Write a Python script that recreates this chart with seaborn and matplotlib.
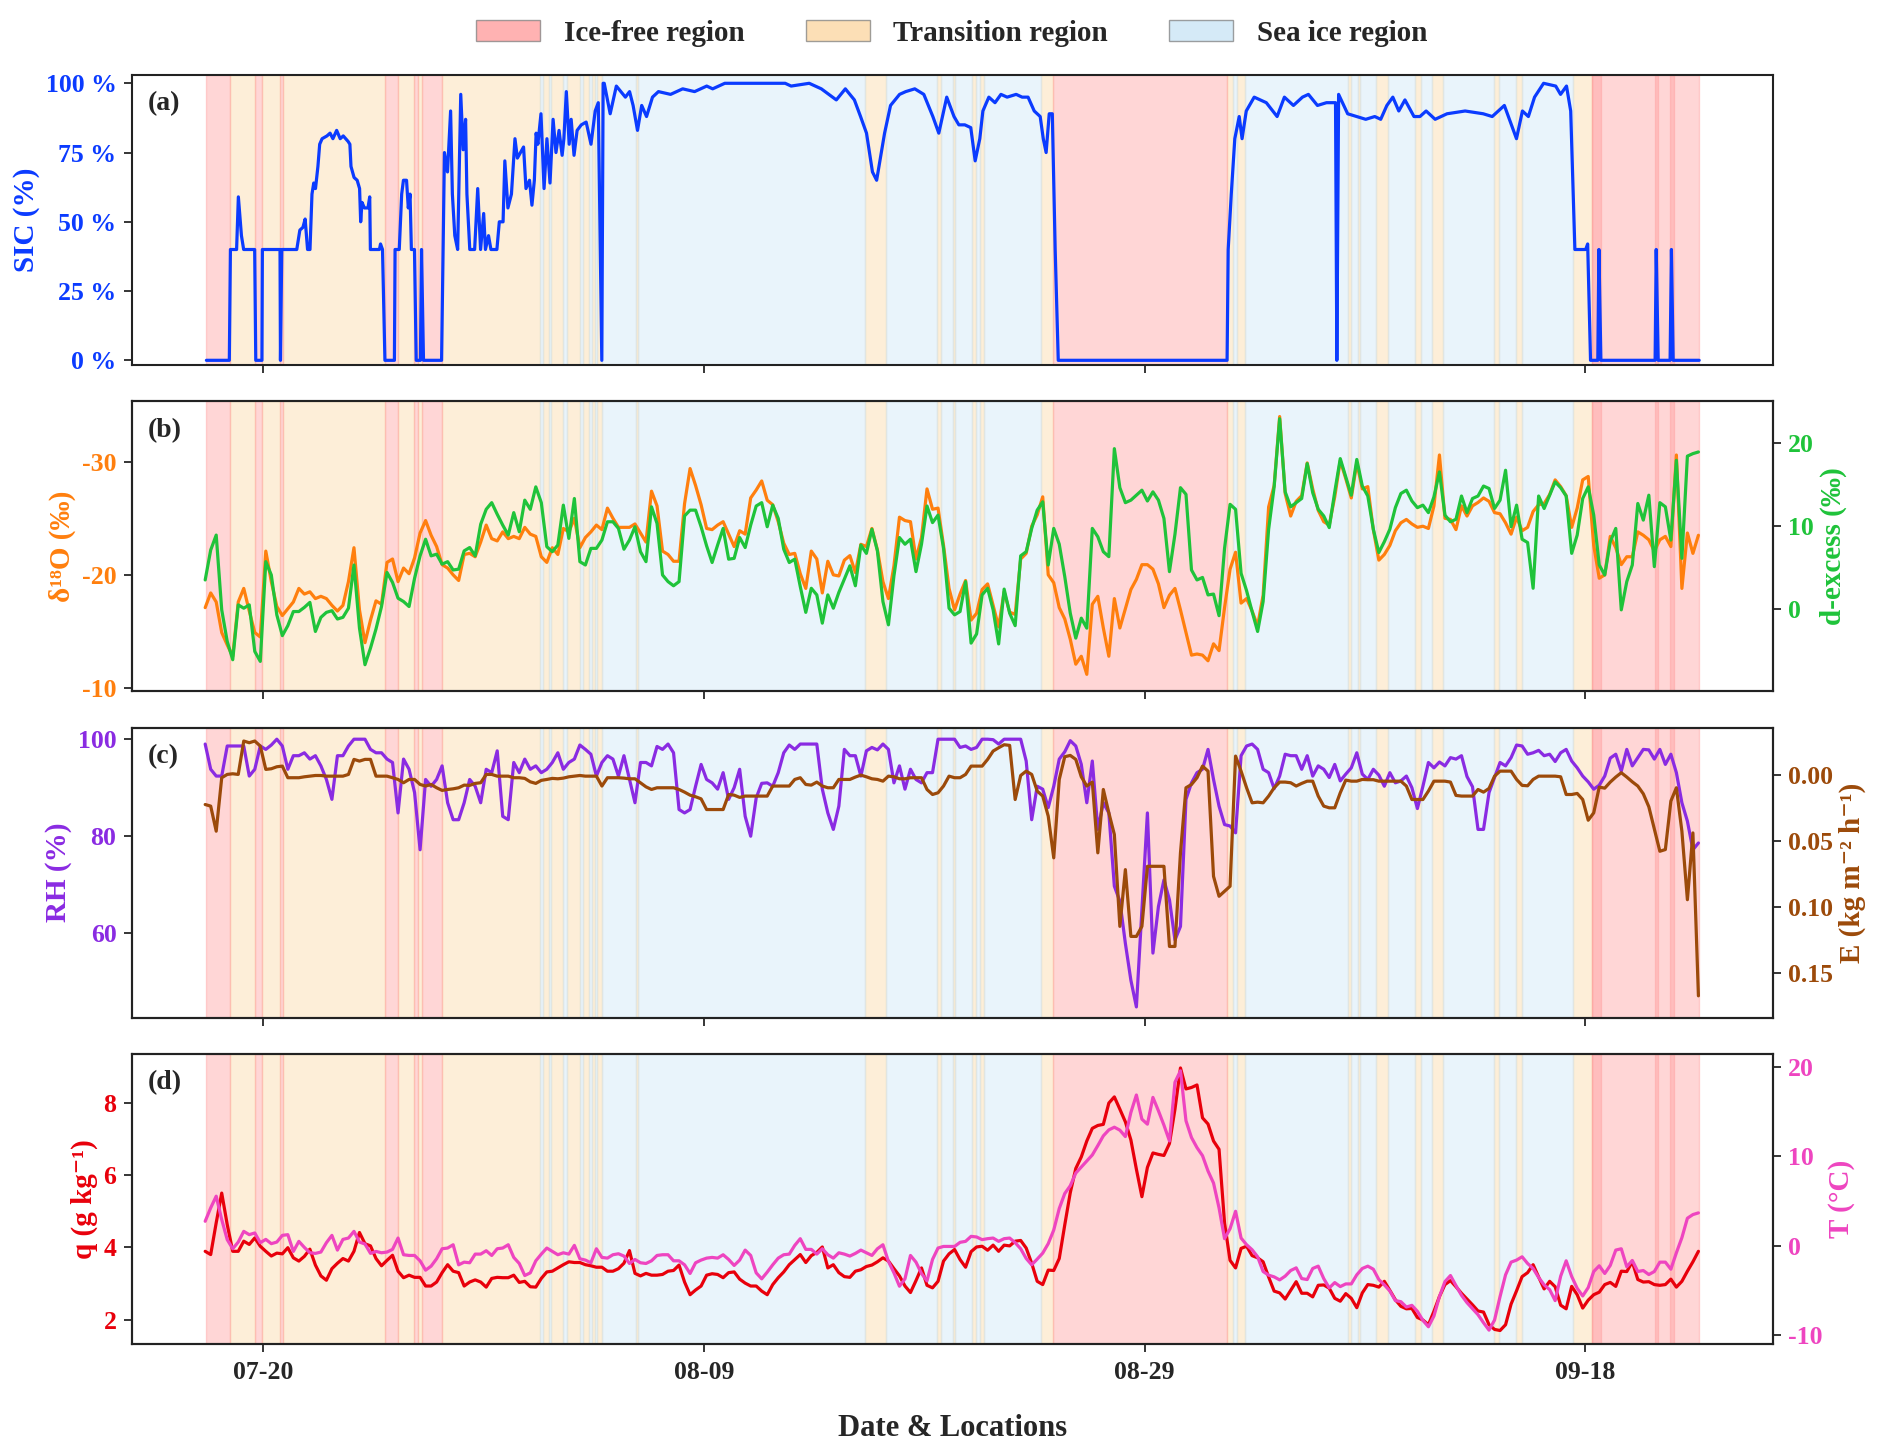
import numpy as np
import pandas as pd
import matplotlib
matplotlib.use('Agg')
import matplotlib.pyplot as plt
import matplotlib.dates as mdates
from matplotlib.patches import Patch
import seaborn as sns

sns.set_style('ticks')
plt.rcParams['font.family'] = ['Liberation Serif', 'DejaVu Serif']
plt.rcParams['font.weight'] = 'bold'
plt.rcParams['axes.labelweight'] = 'bold'
plt.rcParams['axes.unicode_minus'] = False

# ---- data (6-hourly series starting 07-17 09:00) ----
day0 = pd.Timestamp('2023-07-17')
times = pd.date_range('2023-07-17 09:00', periods=272, freq='6h')

d18o = [-17.1, -18.4, -17.6, -14.9, -13.8, -12.8, -17.6, -18.8, -16.8, -14.9,
        -14.5, -22.1, -19.4, -17.2, -16.4, -17.0, -17.6, -18.8, -18.3, -18.5,
        -17.9, -18.1, -17.9, -17.3, -16.8, -17.3, -19.4, -22.4, -16.9, -14.0,
        -16.0, -17.7, -17.4, -21.1, -21.4, -19.4, -20.6, -20.1, -21.5, -23.7,
        -24.8, -23.5, -22.5, -20.9, -20.6, -20.0, -19.5, -21.8, -21.9, -21.6,
        -22.9, -24.4, -23.2, -23.0, -23.8, -23.2, -23.4, -23.2, -24.2, -23.6,
        -23.4, -21.6, -21.1, -22.4, -21.8, -24.1, -23.8, -25.0, -22.4, -23.3,
        -23.8, -24.4, -24.0, -25.9, -25.0, -24.2, -24.2, -24.2, -24.5, -23.7,
        -22.9, -27.4, -26.1, -22.1, -21.8, -21.2, -21.2, -26.3, -29.4, -27.9,
        -26.2, -24.1, -24.0, -24.4, -24.7, -23.6, -22.5, -23.9, -23.6, -26.8,
        -27.5, -28.3, -26.6, -26.2, -24.7, -22.8, -21.8, -21.9, -20.1, -18.8,
        -22.1, -21.4, -18.4, -21.2, -20.0, -19.9, -21.3, -21.7, -20.2, -22.7,
        -22.5, -24.1, -22.2, -19.4, -17.9, -20.8, -25.1, -24.8, -24.7, -21.4,
        -23.3, -27.6, -25.8, -25.9, -22.6, -18.8, -16.9, -18.3, -19.5, -16.0,
        -16.6, -18.7, -19.2, -17.3, -15.4, -18.5, -16.7, -16.5, -21.4, -21.9,
        -24.3, -25.3, -26.9, -20.0, -19.3, -17.1, -16.1, -14.3, -12.1, -12.8,
        -11.2, -17.4, -18.1, -15.3, -12.8, -17.9, -15.3, -17.0, -18.7, -19.6,
        -20.9, -20.9, -20.5, -19.2, -17.1, -18.2, -18.8, -16.9, -14.9, -12.9,
        -13.0, -12.9, -12.4, -13.9, -13.3, -17.1, -20.5, -22.0, -17.5, -17.9,
        -16.8, -15.5, -18.2, -26.0, -27.9, -34.0, -27.2, -25.2, -26.5, -27.0,
        -29.9, -27.6, -25.7, -24.7, -24.4, -26.9, -30.1, -28.5, -26.8, -29.9,
        -27.6, -27.8, -24.0, -21.3, -21.8, -22.6, -23.9, -24.6, -24.9, -24.5,
        -24.2, -24.3, -24.1, -26.1, -30.6, -25.0, -24.9, -24.0, -26.1, -25.2,
        -26.1, -26.4, -26.8, -26.5, -25.5, -25.4, -24.6, -23.6, -25.1, -23.9,
        -24.2, -25.6, -26.2, -26.3, -27.1, -28.4, -27.8, -27.0, -24.2, -25.9,
        -28.4, -28.7, -22.6, -19.7, -20.0, -23.4, -22.4, -20.9, -21.6, -21.6,
        -23.8, -23.5, -23.1, -22.1, -23.1, -23.4, -22.5, -30.6, -18.8, -23.7,
        -21.9, -23.5]

d_excess = [3.5, 7.1, 8.9, -0.1, -3.9, -6.1, 0.5, 0.1, 0.5, -5.1,
            -6.3, 5.7, 4.1, -0.7, -3.2, -2.0, -0.3, -0.3, 0.2, 0.8,
            -2.7, -1.0, -0.4, -0.2, -1.2, -1.0, 0.1, 5.3, -2.3, -6.7,
            -4.7, -2.4, 0.3, 4.4, 3.2, 1.3, 0.9, 0.3, 3.7, 6.4,
            8.4, 6.4, 6.6, 5.4, 5.7, 4.7, 4.8, 7.0, 7.4, 6.4,
            10.2, 12.0, 12.8, 11.4, 10.1, 8.9, 11.6, 9.3, 13.1, 12.0,
            14.7, 12.8, 7.5, 6.9, 7.7, 12.5, 8.5, 13.3, 5.7, 5.3,
            7.3, 7.3, 8.3, 10.5, 10.5, 9.7, 7.2, 8.3, 9.9, 6.9,
            5.7, 12.3, 10.3, 4.1, 3.3, 2.8, 3.3, 11.2, 11.9, 11.9,
            9.9, 7.6, 5.6, 7.7, 9.7, 6.0, 6.1, 8.6, 7.4, 10.1,
            12.4, 12.8, 9.9, 12.5, 10.9, 7.2, 5.6, 6.0, 2.7, -0.4,
            2.5, 1.7, -1.7, 1.7, 0.1, 2.0, 3.6, 5.2, 2.8, 7.7,
            6.7, 9.6, 7.0, 0.9, -1.9, 4.0, 8.6, 7.8, 8.4, 4.5,
            7.8, 12.4, 10.4, 11.3, 7.3, 0.1, -0.7, -0.3, 3.3, -4.1,
            -3.0, 1.7, 2.5, -0.1, -4.2, 2.4, -0.5, -2.0, 6.4, 6.9,
            9.7, 11.9, 12.9, 5.3, 9.7, 7.8, 3.9, -0.5, -3.5, -1.1,
            -2.3, 9.7, 8.7, 6.9, 6.3, 19.3, 14.6, 12.8, 13.1, 13.7,
            14.3, 13.0, 14.1, 13.1, 10.9, 4.5, 9.0, 14.6, 13.8, 4.7,
            3.5, 3.8, 1.7, 1.8, -0.8, 7.3, 12.6, 12.0, 4.3, 2.2,
            -0.3, -2.7, 0.9, 9.6, 14.7, 22.9, 14.1, 12.3, 12.8, 13.3,
            17.5, 14.0, 12.0, 11.2, 9.8, 14.1, 18.1, 15.9, 13.7, 18.0,
            14.8, 13.6, 9.6, 6.8, 8.1, 9.6, 12.2, 13.9, 14.3, 13.0,
            12.2, 12.5, 11.6, 13.5, 16.5, 11.3, 10.5, 10.8, 13.6, 11.6,
            13.3, 13.6, 14.8, 14.5, 12.1, 13.1, 16.7, 9.9, 12.5, 8.4,
            8.0, 2.5, 13.6, 12.1, 13.7, 15.3, 14.6, 13.6, 6.7, 8.9,
            13.3, 14.7, 11.3, 5.3, 4.1, 8.1, 9.7, -0.1, 3.3, 5.3,
            12.7, 10.7, 13.7, 5.1, 12.8, 12.3, 8.3, 17.9, 6.1, 18.4,
            18.7, 18.9]

rh = [99.0, 93.8, 92.4, 92.4, 98.6, 98.6, 98.6, 98.6, 92.4, 93.8,
      98.6, 97.9, 98.8, 100.0, 98.6, 93.8, 96.6, 96.6, 97.2, 95.9,
      96.6, 94.5, 91.7, 87.6, 96.6, 96.6, 98.6, 100.0, 100.0, 100.0,
      97.9, 97.2, 97.2, 95.9, 95.2, 84.8, 95.9, 93.8, 89.0, 77.2,
      91.7, 90.3, 91.7, 94.5, 86.9, 83.4, 83.4, 86.9, 91.7, 90.3,
      86.9, 93.8, 93.1, 97.6, 84.1, 83.4, 95.2, 93.1, 95.9, 93.8,
      94.5, 93.1, 93.8, 95.2, 97.2, 93.8, 95.2, 95.9, 98.8, 97.9,
      96.9, 92.4, 95.2, 96.6, 95.9, 92.4, 96.6, 91.7, 86.9, 95.2,
      95.2, 94.5, 98.5, 97.9, 99.0, 97.2, 85.5, 84.8, 85.5, 90.3,
      94.8, 91.7, 91.0, 89.7, 93.1, 87.6, 90.0, 93.8, 84.1, 80.0,
      87.9, 90.9, 91.0, 90.3, 93.1, 97.2, 98.8, 97.9, 99.0, 99.0,
      99.0, 99.0, 89.7, 84.8, 81.4, 86.2, 97.9, 96.6, 96.6, 92.4,
      97.6, 98.3, 97.8, 99.0, 97.9, 91.0, 94.5, 89.7, 93.8, 91.7,
      91.0, 93.1, 93.1, 100.0, 100.0, 100.0, 100.0, 98.3, 98.6, 97.9,
      98.3, 100.0, 100.0, 99.9, 99.0, 100.0, 100.0, 100.0, 100.0, 95.5,
      83.4, 90.3, 89.7, 85.9, 90.3, 95.9, 97.4, 99.7, 98.6, 94.8,
      86.9, 95.5, 81.4, 86.9, 84.8, 69.7, 66.6, 57.9, 50.3, 44.8,
      64.8, 84.8, 55.9, 65.5, 71.0, 66.9, 58.6, 61.4, 87.6, 91.0,
      93.1, 93.8, 97.9, 91.7, 86.2, 82.4, 82.1, 80.7, 96.6, 98.6,
      99.0, 97.9, 93.8, 93.1, 89.8, 92.4, 96.9, 96.6, 96.6, 93.8,
      96.6, 92.4, 94.5, 93.8, 92.1, 94.8, 91.4, 92.8, 94.1, 97.2,
      92.8, 91.7, 93.8, 92.6, 90.3, 93.1, 91.0, 91.4, 92.4, 90.0,
      85.7, 90.3, 95.2, 94.1, 95.3, 94.5, 96.2, 95.9, 96.6, 92.3,
      90.2, 81.4, 81.4, 89.0, 92.1, 95.2, 94.5, 96.2, 98.8, 98.6,
      96.9, 97.2, 97.7, 96.6, 96.9, 95.4, 97.2, 97.9, 95.5, 94.1,
      92.4, 91.2, 89.7, 90.5, 92.4, 96.1, 96.9, 93.4, 97.9, 94.5,
      96.2, 97.9, 97.8, 95.9, 97.9, 94.8, 96.9, 93.1, 86.9, 83.1,
      77.2, 78.6]

evap = [0.0223, 0.0235, 0.0425, 0.0020, -0.0005, -0.0010, -0.0005, -0.0258, -0.0245, -0.0258,
        -0.0220, -0.0043, -0.0048, -0.0063, -0.0068, 0.0020, 0.0020, 0.0020, 0.0013, 0.0008,
        0.0003, 0.0003, 0.0008, 0.0008, 0.0008, 0.0008, -0.0005, -0.0119, -0.0106, -0.0119,
        -0.0119, 0.0008, 0.0008, 0.0008, 0.0020, 0.0033, 0.0058, 0.0033, 0.0033, 0.0071,
        0.0083, 0.0071, 0.0096, 0.0116, 0.0109, 0.0104, 0.0096, 0.0076, 0.0078, 0.0063,
        0.0058, -0.0005, -0.0005, 0.0008, 0.0008, 0.0008, 0.0020, 0.0020, 0.0025, 0.0051,
        0.0063, 0.0040, 0.0033, 0.0025, 0.0028, 0.0023, 0.0013, 0.0008, 0.0003, 0.0008,
        0.0008, 0.0008, 0.0083, 0.0020, 0.0020, 0.0020, 0.0023, 0.0028, 0.0028, 0.0058,
        0.0089, 0.0109, 0.0096, 0.0096, 0.0096, 0.0096, 0.0109, 0.0129, 0.0152, 0.0164,
        0.0180, 0.0261, 0.0261, 0.0261, 0.0261, 0.0147, 0.0152, 0.0169, 0.0159, 0.0159,
        0.0159, 0.0159, 0.0159, 0.0083, 0.0083, 0.0083, 0.0083, 0.0033, 0.0020, 0.0071,
        0.0076, 0.0053, 0.0083, 0.0096, 0.0096, 0.0033, 0.0033, 0.0033, 0.0015, 0.0000,
        0.0013, 0.0028, 0.0033, 0.0046, 0.0008, 0.0013, 0.0028, 0.0028, 0.0020, 0.0020,
        0.0020, 0.0109, 0.0147, 0.0134, 0.0083, 0.0008, 0.0020, 0.0020, -0.0005, -0.0068,
        -0.0068, -0.0068, -0.0119, -0.0182, -0.0207, -0.0230, -0.0225, 0.0185, 0.0003, -0.0030,
        -0.0005, 0.0121, 0.0159, 0.0311, 0.0627, 0.0033, -0.0139, -0.0149, -0.0119, 0.0013,
        0.0083, 0.0053, 0.0589, 0.0109, 0.0286, 0.0450, 0.1146, 0.0716, 0.1222, 0.1222,
        0.1146, 0.0691, 0.0691, 0.0691, 0.0691, 0.1298, 0.1298, 0.0589, 0.0096, 0.0071,
        0.0020, -0.0068, -0.0030, 0.0767, 0.0918, 0.0880, 0.0842, -0.0144, -0.0030, 0.0096,
        0.0210, 0.0205, 0.0210, 0.0159, 0.0096, 0.0053, 0.0053, 0.0058, 0.0083, 0.0063,
        0.0046, 0.0046, 0.0159, 0.0235, 0.0248, 0.0248, 0.0134, 0.0038, 0.0046, 0.0046,
        0.0033, 0.0035, 0.0035, 0.0046, 0.0046, 0.0046, 0.0046, 0.0046, 0.0083, 0.0185,
        0.0185, 0.0185, 0.0121, 0.0046, 0.0046, 0.0046, 0.0053, 0.0154, 0.0159, 0.0159,
        0.0159, 0.0109, 0.0129, 0.0101, 0.0008, -0.0030, -0.0030, -0.0030, 0.0033, 0.0078,
        0.0081, 0.0033, 0.0008, 0.0008, 0.0008, 0.0008, 0.0013, 0.0147, 0.0147, 0.0139,
        0.0185, 0.0342, 0.0286, 0.0091, 0.0099, 0.0053, 0.0015, -0.0018, 0.0015, 0.0051,
        0.0083, 0.0142, 0.0240, 0.0407, 0.0577, 0.0564, 0.0197, 0.0096, 0.0425, 0.0944,
        0.0438, 0.1672]

q = [3.89, 3.80, 4.68, 5.50, 4.63, 3.89, 3.89, 4.17, 4.08, 4.26,
     4.03, 3.89, 3.76, 3.84, 3.82, 3.99, 3.71, 3.62, 3.75, 3.95,
     3.51, 3.21, 3.09, 3.41, 3.56, 3.69, 3.62, 3.89, 4.41, 4.10,
     4.04, 3.69, 3.49, 3.64, 3.78, 3.34, 3.16, 3.23, 3.17, 3.17,
     2.93, 2.93, 3.04, 3.30, 3.52, 3.34, 3.30, 2.93, 3.04, 3.10,
     3.04, 2.90, 3.14, 3.17, 3.16, 3.16, 3.23, 3.03, 3.06, 2.91,
     2.90, 3.14, 3.32, 3.34, 3.43, 3.52, 3.60, 3.58, 3.58, 3.52,
     3.49, 3.45, 3.45, 3.34, 3.34, 3.41, 3.56, 3.91, 3.28, 3.21,
     3.28, 3.23, 3.23, 3.25, 3.34, 3.36, 3.51, 3.04, 2.69, 2.82,
     2.93, 3.23, 3.27, 3.25, 3.16, 3.30, 3.32, 3.12, 3.01, 2.93,
     2.93, 2.79, 2.69, 2.97, 3.16, 3.32, 3.52, 3.66, 3.80, 3.58,
     3.77, 3.86, 4.01, 3.43, 3.52, 3.30, 3.19, 3.17, 3.34, 3.38,
     3.47, 3.51, 3.60, 3.71, 3.62, 3.41, 3.21, 2.93, 2.75, 3.08,
     3.43, 2.95, 2.88, 3.06, 3.62, 3.82, 3.94, 3.66, 3.45, 3.88,
     4.01, 4.03, 3.92, 4.06, 3.89, 4.06, 4.04, 4.17, 4.19, 3.98,
     3.56, 3.06, 2.97, 3.37, 3.36, 3.69, 4.62, 5.51, 6.18, 6.50,
     6.94, 7.29, 7.37, 7.40, 7.99, 8.16, 7.82, 7.47, 6.97, 6.16,
     5.40, 6.21, 6.61, 6.57, 6.54, 6.87, 7.82, 8.96, 8.38, 8.42,
     8.49, 7.58, 7.41, 6.94, 6.71, 4.67, 3.64, 3.43, 3.97, 4.03,
     3.77, 3.71, 3.60, 3.18, 2.79, 2.74, 2.57, 2.81, 3.05, 2.73,
     2.73, 2.63, 2.95, 2.96, 2.87, 2.59, 2.51, 2.72, 2.59, 2.33,
     2.74, 2.97, 2.95, 2.90, 3.06, 2.81, 2.55, 2.37, 2.30, 2.31,
     2.06, 1.99, 1.86, 2.23, 2.64, 2.97, 3.08, 2.91, 2.73, 2.57,
     2.41, 2.24, 2.21, 1.86, 1.73, 1.70, 1.86, 2.43, 2.80, 3.19,
     3.30, 3.52, 3.18, 2.85, 3.06, 2.91, 2.40, 2.30, 2.92, 2.69,
     2.32, 2.54, 2.69, 2.76, 2.97, 3.03, 2.92, 3.34, 3.33, 3.60,
     3.11, 3.04, 3.05, 2.97, 2.95, 2.97, 3.12, 2.90, 3.06, 3.34,
     3.60, 3.89]

temp = [2.74, 4.24, 5.55, 2.93, 0.68, -0.34, 0.41, 1.61, 1.24, 1.43,
        0.34, 0.71, 0.23, 0.41, 1.16, 1.24, -0.64, 0.49, -0.19, -0.79,
        -0.86, -0.71, 0.34, 1.16, -0.49, 0.71, 0.86, 1.61, 0.41, 0.19,
        -0.86, -0.64, -0.79, -0.71, -0.41, 0.86, -1.01, -1.09, -1.09, -1.69,
        -2.74, -2.29, -1.46, -0.34, -0.26, 0.11, -2.14, -1.84, -1.91, -0.94,
        -0.94, -0.56, -1.09, -0.34, -0.26, 0.11, -1.31, -1.99, -3.34, -3.04,
        -1.69, -0.94, -0.26, -0.64, -1.01, -0.79, -0.94, 0.04, -1.46, -1.61,
        -1.91, -0.34, -1.31, -1.39, -1.01, -0.90, -1.16, -1.99, -1.54, -1.91,
        -1.99, -1.69, -1.09, -1.01, -1.01, -1.69, -1.69, -2.14, -3.11, -1.91,
        -1.61, -1.39, -1.31, -1.39, -1.01, -1.54, -2.21, -1.61, -0.49, -1.09,
        -3.04, -3.71, -2.96, -2.14, -1.39, -1.01, -0.94, 0.04, 0.79, -0.41,
        -0.41, -0.94, -0.34, -1.01, -1.39, -0.79, -0.94, -1.16, -0.86, -0.49,
        -0.79, -1.09, -0.34, 0.11, -1.76, -3.04, -4.54, -3.71, -1.09, -1.84,
        -3.11, -3.94, -1.54, -0.26, -0.08, -0.08, -0.08, 0.38, 0.49, 1.05,
        0.98, 0.68, 0.79, 0.86, 0.49, 0.79, 0.86, 0.34, -0.34, -1.43,
        -2.14, -1.50, -0.83, 0.23, 1.76, 4.17, 5.85, 6.72, 8.14, 8.82,
        9.49, 10.17, 11.22, 12.31, 12.98, 13.28, 12.95, 12.23, 14.93, 16.89,
        14.18, 13.62, 16.62, 15.12, 13.51, 11.74, 18.31, 19.6, 14.00, 12.12,
        10.99, 10.09, 8.37, 7.02, 4.24, 0.79, 1.91, 3.86, 0.86, 0.11,
        -0.45, -1.24, -2.89, -3.30, -3.49, -3.83, -3.41, -2.78, -2.48, -3.68,
        -3.79, -2.55, -2.29, -3.68, -4.73, -4.13, -4.58, -4.28, -4.28, -3.26,
        -2.55, -2.29, -2.63, -3.79, -4.39, -5.07, -6.15, -6.27, -6.87, -6.68,
        -7.35, -8.37, -9.08, -7.88, -5.70, -4.02, -3.34, -4.47, -5.55, -6.38,
        -7.05, -7.73, -8.63, -9.46, -8.33, -5.70, -3.26, -1.84, -1.61, -1.24,
        -1.99, -2.55, -3.56, -4.39, -4.92, -6.15, -3.41, -1.69, -3.45, -4.77,
        -5.63, -4.69, -2.89, -2.25, -3.11, -2.21, -0.49, -0.34, -2.36, -1.65,
        -2.89, -2.78, -3.23, -2.89, -1.84, -1.84, -2.63, -0.79, 0.90, 3.08,
        3.49, 3.68]

# sea ice concentration, irregular times (days after 07-17 00:00)
sic_day = [0.43, 1.47, 1.52, 1.80, 1.88, 2.02, 2.12, 2.62, 2.67, 2.95, 2.97, 3.77, 3.79, 3.85,
           4.53, 4.67, 4.81, 4.91, 5.02, 5.13, 5.22, 5.30, 5.38, 5.49, 5.57, 5.68, 5.90, 6.04,
           6.17, 6.34, 6.50, 6.64, 6.86, 6.94, 6.99, 7.13, 7.27, 7.38, 7.43, 7.49, 7.60, 7.76,
           7.84, 7.87, 8.28, 8.33, 8.42, 8.53, 8.96, 8.99, 9.18, 9.29, 9.37, 9.51, 9.59, 9.67,
           9.73, 9.87, 9.95, 10.14, 10.19, 10.28, 11.10, 11.23, 11.37, 11.51, 11.59, 11.70, 11.83,
           11.97, 12.08, 12.19, 12.25, 12.38, 12.60, 12.74, 12.87, 13.01, 13.09, 13.23, 13.34,
           13.61, 13.72, 13.89, 13.97, 14.11, 14.27, 14.43, 14.54, 14.82, 14.93, 15.09, 15.20,
           15.31, 15.39, 15.47, 15.61, 15.75, 15.88, 16.02, 16.16, 16.29, 16.43, 16.57, 16.65,
           16.76, 16.89, 16.98, 17.11, 17.25, 17.44, 17.66, 17.88, 18.07, 18.21, 18.37, 18.43,
           18.48, 18.75, 19.03, 19.44, 19.63, 19.79, 19.99, 20.18, 20.40, 20.67, 20.94, 21.49,
           22.04, 22.58, 23.13, 23.40, 23.95, 26.69, 26.96, 27.78, 28.33, 29.01, 29.42, 29.83,
           30.11, 30.38, 30.65, 30.84, 31.01, 31.20, 31.47, 31.88, 32.16, 32.57, 32.98, 33.39,
           33.66, 34.02, 34.35, 34.57, 34.84, 35.11, 35.31, 35.52, 35.66, 35.93, 36.21, 36.48,
           36.76, 37.17, 37.44, 37.71, 37.99, 38.26, 38.40, 38.53, 38.67, 38.81, 38.94, 39.08,
           46.74, 46.79, 46.93, 47.09, 47.29, 47.42, 47.61, 47.97, 48.52, 49.01, 49.34, 49.75,
           50.16, 50.43, 50.84, 51.25, 51.66, 51.72, 51.80, 52.21, 52.62, 53.03, 53.44, 53.71,
           53.99, 54.26, 54.53, 54.81, 55.22, 55.49, 55.77, 56.18, 56.72, 57.54, 58.36, 58.77,
           59.32, 59.87, 60.14, 60.41, 60.69, 61.10, 61.65, 61.87, 62.14, 62.33, 62.52, 63.01,
           63.10, 63.23, 63.56, 63.61, 63.70, 66.16, 66.21, 66.30, 66.84, 66.90, 66.98, 68.16]
sic = [0, 0, 40, 40, 59, 45, 40, 40, 0, 0, 40, 40, 0, 40,
       40, 47, 48, 51, 40, 40, 60, 64, 62, 70, 78, 80, 81, 82,
       80, 83, 80, 81, 79, 78, 70, 66, 65, 62, 50, 57, 55, 55,
       59, 40, 40, 42, 40, 0, 0, 40, 40, 60, 65, 65, 55, 60,
       40, 40, 0, 0, 40, 0, 0, 75, 68, 90, 60, 45, 40,
       96, 76, 87, 60, 40, 40, 62, 40, 53, 40, 45, 40,
       40, 50, 50, 72, 55, 60, 80, 73, 77, 62, 65, 56,
       65, 82, 78, 89, 62, 80, 64, 87, 75, 83, 74, 80,
       97, 78, 87, 74, 83, 85, 86, 78, 90, 93, 0, 100,
       100, 89, 99, 95, 97, 92, 83, 92, 88, 95, 97, 96,
       98, 97, 99, 98, 100, 100, 99, 100, 98, 94, 98, 94,
       88, 82, 68, 65, 73, 82, 92, 96, 97, 98, 96, 88,
       82, 95, 88, 85, 85, 84, 72, 80, 90, 95, 93, 96,
       95, 96, 95, 95, 90, 88, 80, 75, 89, 89, 40, 0,
       0, 40, 60, 80, 88, 80, 90, 95, 93, 88, 95, 92,
       95, 96, 92, 93, 93, 0, 96, 89, 88, 87, 88, 87,
       92, 95, 90, 94, 88, 88, 90, 87, 89, 90, 89, 88,
       92, 80, 90, 88, 95, 100, 99, 96, 99, 90, 40, 40,
       42, 0, 0, 40, 0, 0, 40, 0, 0, 40, 0, 0]

# region periods (days after 07-17 00:00)
ice_free_spans = [(0.42, 1.48), (2.64, 2.95), (3.78, 3.90), (8.52, 9.11), (9.87, 10.01),
                  (10.20, 11.13), (38.86, 46.72), (63.28, 68.16),
                  (63.30, 63.70), (66.15, 66.30), (66.85, 67.00)]
transition_spans = [(1.48, 2.64), (2.95, 3.78), (3.90, 8.52), (9.11, 9.87), (10.01, 10.20),
                    (11.13, 15.58), (15.70, 15.99), (16.08, 16.60), (16.77, 17.40),
                    (17.50, 17.79), (17.93, 18.05), (18.15, 18.36), (19.94, 20.00),
                    (30.32, 31.27), (33.59, 33.76), (34.30, 34.40), (35.15, 35.35),
                    (35.55, 35.69), (38.31, 38.86), (46.72, 47.00), (47.20, 47.55),
                    (52.24, 52.38), (52.66, 52.79), (53.48, 54.03), (55.28, 55.55),
                    (56.05, 56.52), (58.86, 59.08), (59.83, 60.10), (62.45, 63.28)]
sea_ice_spans = [(15.58, 15.70), (15.99, 16.08), (16.60, 16.77), (17.40, 17.50),
                 (17.79, 17.93), (18.05, 18.15), (18.36, 19.94), (20.00, 30.32),
                 (31.27, 33.59), (33.76, 34.30), (34.40, 35.15), (35.35, 35.55),
                 (35.69, 38.31), (47.00, 47.20), (47.55, 52.24), (52.38, 52.66),
                 (52.79, 53.48), (54.03, 55.28), (55.55, 56.05), (56.52, 58.86),
                 (59.08, 59.83), (60.10, 62.45)]

tick_dates = pd.to_datetime(['2023-07-20', '2023-08-09', '2023-08-29', '2023-09-18'])

# colours
c_free, c_trans, c_ice = '#ff9999', '#fcd59e', '#c8e4f5'
c_sic, c_d18o, c_dex = '#0b3bff', '#ff7f0e', '#1fc33a'
c_rh, c_e = '#8a2be2', '#9c4a0a'
c_q, c_t = '#e8000b', '#ee45c0'

sic_time = day0 + pd.to_timedelta(sic_day, unit='D')

fig, axes = plt.subplots(4, 1, figsize=(18.92, 14.56), dpi=100, sharex=True)
fig.subplots_adjust(left=0.0696, right=0.937, top=0.9485, bottom=0.077, hspace=0.125)


def shade(ax):
    for spans, col in [(transition_spans, c_trans), (sea_ice_spans, c_ice), (ice_free_spans, c_free)]:
        for a, b in spans:
            ax.axvspan(day0 + pd.Timedelta(days=a), day0 + pd.Timedelta(days=b),
                       facecolor=col, edgecolor=col, alpha=0.4, lw=1, zorder=0)


def style(ax, color, label, fs_lab=21):
    ax.set_ylabel(label, color=color, fontsize=fs_lab, fontweight='bold')
    ax.tick_params(axis='y', labelcolor=color, labelsize=18.5, length=6, width=1.3, pad=5)
    ax.tick_params(axis='x', labelsize=18.5, length=6, width=1.3, pad=6)
    for s in ax.spines.values():
        s.set_linewidth(1.5)
        s.set_color('#222222')


lw = 2.3

# (a) SIC
ax = axes[0]
shade(ax)
sns.lineplot(x=sic_time, y=sic, ax=ax, color=c_sic, lw=lw, estimator=None, sort=False)
ax.set_ylim(-1.7, 103)
ax.set_yticks([0, 25, 50, 75, 100])
ax.set_yticklabels(['0 %', '25 %', '50 %', '75 %', '100 %'])
style(ax, c_sic, 'SIC (%)')

# (b) d18O and d-excess
ax = axes[1]
shade(ax)
sns.lineplot(x=times, y=d18o, ax=ax, color=c_d18o, lw=lw, estimator=None, sort=False)
ax.set_ylim(-9.7, -35.35)
ax.set_yticks([-30, -20, -10])
style(ax, c_d18o, 'δ¹⁸O (‰)')
ax2 = ax.twinx()
sns.lineplot(x=times, y=d_excess, ax=ax2, color=c_dex, lw=lw, estimator=None, sort=False)
ax2.set_ylim(-9.9, 25.0)
ax2.set_yticks([0, 10, 20])
style(ax2, c_dex, 'd-excess (‰)')

# (c) RH and E
ax = axes[2]
shade(ax)
sns.lineplot(x=times, y=rh, ax=ax, color=c_rh, lw=lw, estimator=None, sort=False)
ax.set_ylim(42.6, 102.4)
ax.set_yticks([60, 80, 100])
style(ax, c_rh, 'RH (%)')
ax2 = ax.twinx()
sns.lineplot(x=times, y=evap, ax=ax2, color=c_e, lw=lw, estimator=None, sort=False)
ax2.set_ylim(0.1837, -0.036)
ax2.set_yticks([0.0, 0.05, 0.10, 0.15])
ax2.set_yticklabels(['0.00', '0.05', '0.10', '0.15'])
style(ax2, c_e, 'E (kg m⁻² h⁻¹)')

# (d) q and T
ax = axes[3]
shade(ax)
sns.lineplot(x=times, y=q, ax=ax, color=c_q, lw=lw, estimator=None, sort=False)
ax.set_ylim(1.33, 9.35)
ax.set_yticks([2, 4, 6, 8])
style(ax, c_q, 'q (g kg⁻¹)')
ax2 = ax.twinx()
sns.lineplot(x=times, y=temp, ax=ax2, color=c_t, lw=lw, estimator=None, sort=False)
ax2.set_ylim(-11.0, 21.5)
ax2.set_yticks([-10, 0, 10, 20])
style(ax2, c_t, 'T (°C)')

for ax, lab in zip(axes, ['(a)', '(b)', '(c)', '(d)']):
    ax.text(0.01, 0.9, lab, transform=ax.transAxes, fontsize=20, fontweight='bold',
            ha='left', va='center')
    ax.set_xlabel('')

axes[0].set_xlim(day0 + pd.Timedelta(days=-2.96), day0 + pd.Timedelta(days=71.5))
axes[-1].set_xticks(tick_dates)
axes[-1].xaxis.set_major_formatter(mdates.DateFormatter('%m-%d'))
axes[-1].set_xlabel('Date & Locations', fontsize=22, fontweight='bold', labelpad=22)

handles = [Patch(facecolor=c_free, edgecolor='grey', alpha=0.75),
           Patch(facecolor=c_trans, edgecolor='grey', alpha=0.75),
           Patch(facecolor=c_ice, edgecolor='grey', alpha=0.75)]
fig.legend(handles, ['Ice-free region', 'Transition region', 'Sea ice region'],
           loc='center', bbox_to_anchor=(0.503, 0.977), ncol=3, frameon=False,
           prop={'size': 21, 'weight': 'bold'}, handlelength=2.2, handleheight=0.75,
           columnspacing=2.1)

fig.savefig('out.png', dpi=100)
